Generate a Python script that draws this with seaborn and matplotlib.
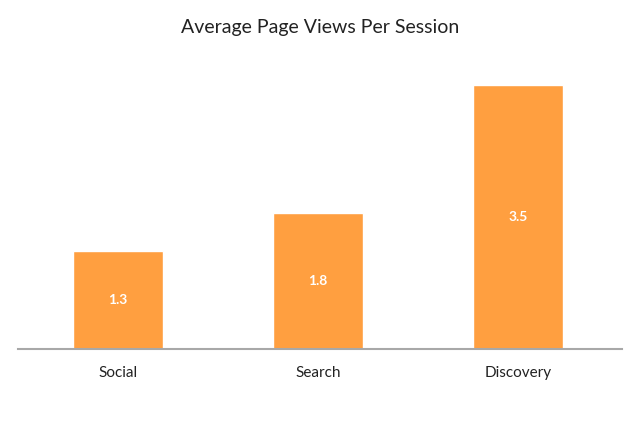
import matplotlib
matplotlib.use("Agg")
import matplotlib.pyplot as plt
import seaborn as sns
import pandas as pd

sns.set_theme(style="white")
plt.rcParams['font.family'] = ['Lato', 'DejaVu Sans']

sources = ["Social", "Search", "Discovery"]
views = [1.3, 1.8, 3.5]
labels = ["1.3", "1.8", "3.5"]

df = pd.DataFrame({"source": sources, "views": views})

fig = plt.figure(figsize=(6.4, 4.28), dpi=100)
ax = fig.add_axes([0.028, 0.1846, 0.944, 0.675])
sns.barplot(data=df, x="source", y="views", color="#FF9F40", saturation=1, width=0.45, ax=ax)

for i, (v, lab) in enumerate(zip(views, labels)):
    ax.text(i, v / 2, lab, ha="center", va="center", color="white", fontsize=10, fontweight="bold")

ax.set_xlim(-0.5, 2.52)
ax.set_ylim(0, 3.83)
ax.set_xlabel("")
ax.set_ylabel("")
ax.set_yticks([])
ax.tick_params(axis="x", length=0, labelsize=11, pad=12, colors="#222222")
for s in ["top", "right", "left"]:
    ax.spines[s].set_visible(False)
ax.spines["bottom"].set_color("#A8A8A8")
ax.spines["bottom"].set_linewidth(1.5)

fig.suptitle("Average Page Views Per Session", y=0.955, fontsize=14, color="#222222")
fig.savefig("out.png", dpi=100)
